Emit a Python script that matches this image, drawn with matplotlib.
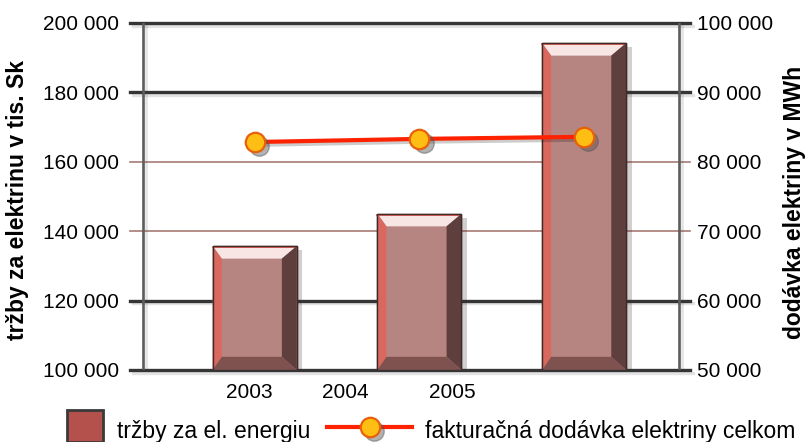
import matplotlib
matplotlib.use("Agg")
import matplotlib.pyplot as plt
import matplotlib.patheffects as pe
import matplotlib.transforms as mtransforms
from matplotlib.patches import Rectangle
from matplotlib.lines import Line2D

plt.rcParams['font.family'] = ['Liberation Sans', 'DejaVu Sans']

# data
years = ['2003', '2004', '2005']
trzby = [135700, 145000, 194200]          # tis. Sk (left axis)
dodavka = [82850, 83300, 83600]           # MWh (right axis)
left_ticks = [100000, 120000, 140000, 160000, 180000, 200000]
right_ticks = [50000, 60000, 70000, 80000, 90000, 100000]
dark_grid = [100000, 120000, 180000, 200000]
light_grid = [140000, 160000]

label_left = 'tržby za elektrinu v tis. Sk'
label_right = 'dodávka elektriny v MWh'
legend_bar = 'tržby za el. energiu'
legend_line = 'fakturačná dodávka elektriny celkom'


def fmt(v):
    return f'{v:,}'.replace(',', ' ')


W, H = 807, 442
fig = plt.figure(figsize=(W / 100, H / 100), dpi=100)
ax = fig.add_axes([130 / W, 1 - 370 / H, 560 / W, 347 / H])
ax.set_xlim(-0.757, 2.643)
ax.set_ylim(left_ticks[0], left_ticks[-1])
for s in ax.spines.values():
    s.set_visible(False)

shadow_l = [pe.SimpleLineShadow(offset=(2, -2), alpha=0.15, shadow_color='#444444'), pe.Normal()]

# horizontal grid
for y in dark_grid:
    ax.axhline(y, color='#353535', lw=2.4, zorder=1, path_effects=shadow_l, clip_on=False)
for y in light_grid:
    ax.axhline(y, color='#a87a74', lw=1.2, zorder=1, clip_on=False)
# inner vertical frame lines
for xv in (-0.678, 2.577):
    ax.axvline(xv, color='#5c5c5c', lw=1.9, zorder=1, path_effects=shadow_l)

# 3d-ish bevelled bars
xs = list(range(len(trzby)))
base = left_ticks[0]
bw = 0.51
ax.bar(xs, [t - base for t in trzby], bottom=base, width=bw, color='#b78581',
       edgecolor='#4a3432', lw=1.0, zorder=3,
       path_effects=[pe.SimplePatchShadow(offset=(4, -3), alpha=0.22), pe.Normal()])
dxl, dxr, dyt, dyb = 0.055, 0.09, 3600, 3800
for x, t in zip(xs, trzby):
    x0, x1 = x - bw / 2, x + bw / 2
    # top bevel
    ax.fill([x0, x1, x1 - dxr, x0 + dxl], [t, t, t - dyt, t - dyt],
            color='#f7e6e4', zorder=4, lw=0)
    ax.plot([x0, x1], [t - 300, t - 300], color='#e0584e', lw=1.3, zorder=4)
    # left bevel
    ax.fill([x0, x0 + dxl, x0 + dxl, x0], [t, t - dyt, base + dyb, base],
            color='#d9685f', zorder=4, lw=0)
    # right bevel
    ax.fill([x1, x1, x1 - dxr, x1 - dxr], [t, base, base + dyb, t - dyt],
            color='#5f3f3d', zorder=4, lw=0)
    # bottom bevel
    ax.fill([x0, x1, x1 - dxr, x0 + dxl], [base, base, base + dyb, base + dyb],
            color='#7f524f', zorder=4, lw=0)
    ax.add_patch(Rectangle((x0, base), bw, t - base, fill=False,
                           edgecolor='#3e2a29', lw=1.0, zorder=5))

ax.set_yticks(left_ticks)
ax.set_yticklabels([fmt(v) for v in left_ticks], fontsize=15)
ax.tick_params(axis='y', length=0, pad=8)
ax.set_xticks([-0.03, 0.55, 1.2])
ax.set_xticklabels(years, fontsize=15)
ax.tick_params(axis='x', length=0, pad=9)

# right axis with the delivery line
ax2 = ax.twinx()
ax2.set_ylim(right_ticks[0], right_ticks[-1])
for s in ax2.spines.values():
    s.set_visible(False)
ax2.set_yticks(right_ticks)
ax2.set_yticklabels([fmt(v) for v in right_ticks], fontsize=15)
ax2.tick_params(axis='y', length=0, pad=5)
ax2.plot(xs, dodavka, color='#ff2200', lw=3, zorder=6,
         path_effects=[pe.SimpleLineShadow(offset=(2, -2), alpha=0.2), pe.Normal()])
shadow_tr = mtransforms.offset_copy(ax2.transData, fig=fig, x=3, y=-3, units='points')
ax2.plot(xs, dodavka, ls='none', marker='o', ms=14, mfc='#555555', mec='#555555',
         alpha=0.45, zorder=6.5, transform=shadow_tr)
ax2.plot(xs, dodavka, ls='none', marker='o', ms=14, mfc='#ffbe14', mec='#e8600a',
         mew=1.6, zorder=7)

fig.text(18 / W, 1 - 200 / H, label_left, rotation=90, ha='center', va='center',
         fontsize=16.5, fontweight='bold')
fig.text(795 / W, 1 - 202 / H, label_right, rotation=90, ha='center', va='center',
         fontsize=16.5, fontweight='bold')

# legend drawn by hand at the bottom
fig.patches.append(Rectangle((67 / W, 0), 36 / W, 32 / H, transform=fig.transFigure,
                             facecolor='#b5514c', edgecolor='#3a3a3a', lw=2))
fig.text(117 / W, 1 - 438 / H, legend_bar, fontsize=16.5, va='baseline')
ly = 1 - 427 / H
fig.lines.append(Line2D([327 / W, 412 / W], [ly, ly], transform=fig.transFigure,
                        color='#ff2200', lw=3))
leg_shadow = mtransforms.offset_copy(fig.transFigure, fig=fig, x=3, y=-3, units='points')
fig.lines.append(Line2D([370 / W], [ly], transform=leg_shadow, marker='o', ms=14,
                        mfc='#555555', mec='#555555', alpha=0.45))
fig.lines.append(Line2D([370 / W], [ly], transform=fig.transFigure, marker='o', ms=14,
                        mfc='#ffbe14', mec='#e8600a', mew=1.6))
fig.text(425 / W, 1 - 438 / H, legend_line, fontsize=16.5, va='baseline')

fig.savefig('out.png', dpi=100)
